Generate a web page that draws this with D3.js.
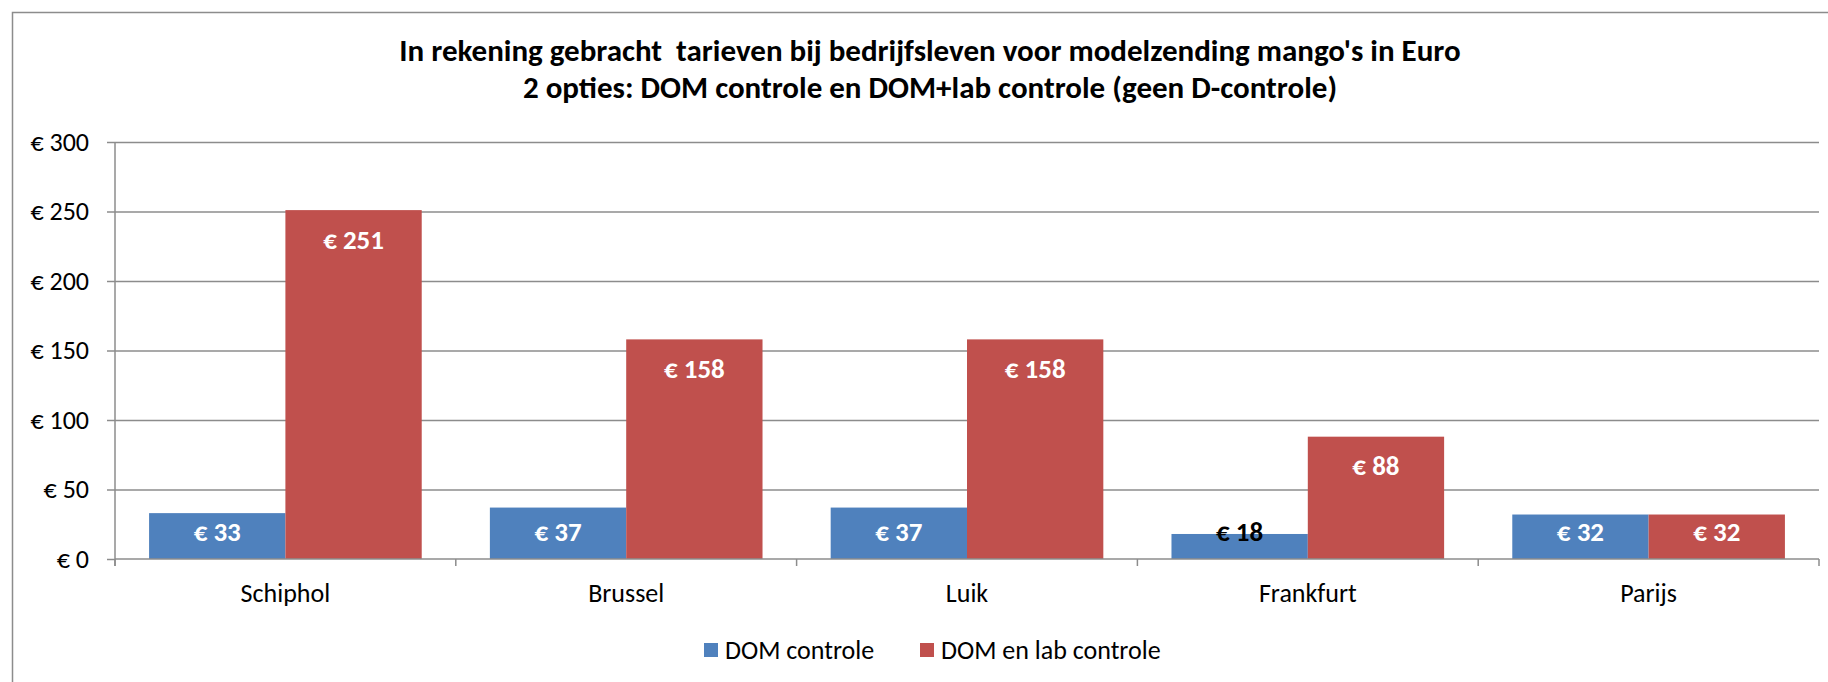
<!DOCTYPE html>
<html>
<head>
<meta charset="utf-8">
<script src="https://cdn.jsdelivr.net/npm/d3@7"></script>
<style>
    html, body { margin: 0; padding: 0; background: #fff; }
    svg { display: block; font-family: Calibri, Carlito, Lato, sans-serif; }
    text { white-space: pre; }
</style>
</head>
<body>
<svg id="chart"></svg>
<script>
// Chart values
let categories = ['Schiphol', 'Brussel', 'Luik', 'Frankfurt', 'Parijs']
let domValues = [33, 37, 37, 18, 32]
let domLabValues = [251, 158, 158, 88, 32]
let seriesNames = ['DOM controle', 'DOM en lab controle']
let yTicks = [0, 50, 100, 150, 200, 250, 300]
let titleLines = ["In rekening gebracht  tarieven bij bedrijfsleven voor modelzending mango's in Euro",
                  '2 opties: DOM controle en DOM+lab controle (geen D-controle)']

let width = 1828
let height = 682
let plotLeft = 115
let plotRight = 1819
let plotTop = 142
let plotBottom = 559

let colors = ['#4f81bd', '#c0504d']
let gridColor = '#8c8c8c'
let fontFamily = 'Calibri, Carlito, Lato, sans-serif'

let xScale; let xInner; let yScale

let svg = d3.select('#chart')
            .attr('width', width)
            .attr('height', height)

// outer chart border (only top and left are visible in the frame)
svg.append('rect')
    .attr('x', 12.5)
    .attr('y', 12.5)
    .attr('width', width)
    .attr('height', height)
    .attr('fill', 'none')
    .attr('stroke', '#8c8c8c')
    .attr('stroke-width', 1.5)

function buildScale() {
    xScale = d3.scaleBand()
                .domain(categories)
                .range([plotLeft, plotRight])
                .paddingInner(0)
                .paddingOuter(0)

    // two bars per category, half a bar of gap split on both sides
    xInner = d3.scaleBand()
                .domain(seriesNames)
                .range([0, xScale.bandwidth()])
                .paddingOuter(0.25)
                .paddingInner(0)

    yScale = d3.scaleLinear()
                .domain([0, 300])
                .range([plotBottom, plotTop])
}

function buildAxes() {
    // gridlines
    let grid = d3.axisLeft(yScale)
                .tickValues(yTicks.slice(1))
                .tickSize(-(plotRight - plotLeft))
                .tickFormat('')
    svg.append('g')
        .attr('class', 'grid')
        .attr('transform', 'translate(' + plotLeft + ', 0)')
        .call(grid)
        .call(g => g.select('.domain').remove())
        .call(g => g.selectAll('line').attr('stroke', gridColor).attr('stroke-width', 1.5))

    let yAxis = d3.axisLeft(yScale)
                .tickValues(yTicks)
                .tickSize(8)
                .tickPadding(18)
                .tickFormat(d => '€ ' + d)
    svg.append('g')
        .attr('id', 'y-axis')
        .attr('transform', 'translate(' + plotLeft + ', 0)')
        .call(yAxis)
        .attr('font-family', fontFamily)
        .attr('font-size', null)
        .call(g => g.select('.domain')
                    .attr('d', 'M0,' + plotTop + 'V' + (plotBottom + 7))
                    .attr('stroke', gridColor).attr('stroke-width', 1.5))
        .call(g => g.selectAll('line').attr('stroke', gridColor).attr('stroke-width', 1.5))
        .call(g => g.selectAll('text')
                    .attr('fill', '#000')
                    .style('font-size', '26px'))
}

function drawBars() {
    let groups = svg.selectAll('.group')
                    .data(categories)
                    .enter()
                    .append('g')
                    .attr('class', 'group')
                    .attr('transform', d => 'translate(' + xScale(d) + ', 0)')

    let rows = (d, i) => [
        { series: seriesNames[0], value: domValues[i], cat: d },
        { series: seriesNames[1], value: domLabValues[i], cat: d }
    ]

    groups.selectAll('rect')
        .data(rows)
        .enter()
        .append('rect')
        .attr('x', d => xInner(d.series))
        .attr('y', d => yScale(d.value))
        .attr('width', xInner.bandwidth())
        .attr('height', d => yScale(0) - yScale(d.value))
        .attr('fill', d => colors[seriesNames.indexOf(d.series)])

    // data labels, inside end, kept above the baseline for short bars
    groups.selectAll('.label')
        .data(rows)
        .enter()
        .append('text')
        .attr('class', 'label')
        .attr('x', d => xInner(d.series) + xInner.bandwidth() / 2)
        .attr('y', d => Math.min(yScale(d.value) + 29, yScale(0) - 28))
        .attr('text-anchor', 'middle')
        .attr('dominant-baseline', 'central')
        .style('font-size', '27px')
        .style('font-weight', 'bold')
        .attr('fill', d => (d.cat === 'Frankfurt' && d.series === seriesNames[0]) ? '#000' : '#fff')
        .text(d => '€ ' + d.value)
}

function buildXAxis() {
    let base = svg.append('g').attr('id', 'x-axis')

    base.append('line')
        .attr('x1', plotLeft).attr('x2', plotRight)
        .attr('y1', yScale(0)).attr('y2', yScale(0))
        .attr('stroke', gridColor).attr('stroke-width', 1.5)

    // tick marks sit between the categories
    let edges = categories.map(c => xScale(c)).concat([xScale(categories[categories.length - 1]) + xScale.bandwidth()])
    base.selectAll('.tick')
        .data(edges)
        .enter()
        .append('line')
        .attr('x1', d => d).attr('x2', d => d)
        .attr('y1', yScale(0)).attr('y2', yScale(0) + 7)
        .attr('stroke', gridColor).attr('stroke-width', 1.5)

    base.selectAll('text')
        .data(categories)
        .enter()
        .append('text')
        .attr('x', d => xScale(d) + xScale.bandwidth() / 2)
        .attr('y', 593)
        .attr('text-anchor', 'middle')
        .attr('dominant-baseline', 'central')
        .style('font-size', '26px')
        .text(d => d)
}

function drawTitle() {
    svg.append('g')
        .selectAll('text')
        .data(titleLines)
        .enter()
        .append('text')
        .attr('x', 930)
        .attr('y', (d, i) => 61 + i * 37)
        .attr('text-anchor', 'middle')
        .style('font-size', '31px')
        .style('font-weight', 'bold')
        .text(d => d)
}

function drawLegend() {
    let legend = svg.append('g').attr('id', 'legend')
    let starts = [704, 920]
    let items = legend.selectAll('g')
                    .data(seriesNames)
                    .enter()
                    .append('g')
                    .attr('transform', (d, i) => 'translate(' + starts[i] + ', 650)')

    items.append('rect')
        .attr('x', 0).attr('y', -7)
        .attr('width', 14).attr('height', 14)
        .attr('fill', (d, i) => colors[i])

    items.append('text')
        .attr('x', 21)
        .attr('y', 0)
        .attr('dominant-baseline', 'central')
        .style('font-size', '26px')
        .text(d => d)
}

buildScale()
buildAxes()
drawBars()
buildXAxis()
drawTitle()
drawLegend()
</script>
</body>
</html>
